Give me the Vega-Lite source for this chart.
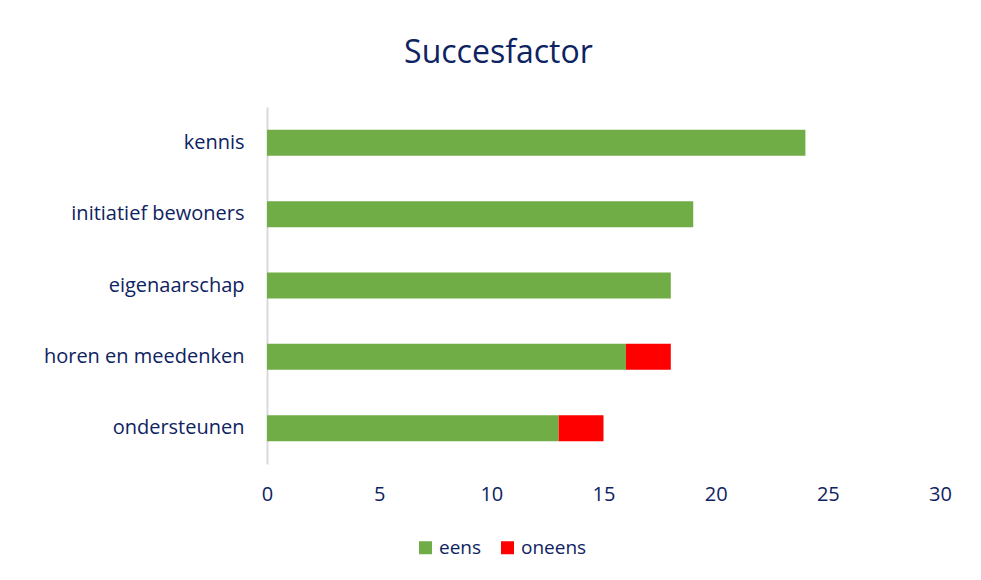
{
  "$schema": "https://vega.github.io/schema/vega-lite/v6.json",
  "autosize": {"type": "none"},
  "width": 673,
  "height": 357,
  "padding": {"left": 267, "top": 107, "right": 41, "bottom": 116},
  "background": "white",
  "title": {
    "text": "Succesfactor",
    "font": "Open Sans",
    "fontSize": 32,
    "fontWeight": "normal",
    "color": "#0E2361",
    "anchor": "middle",
    "frame": "bounds",
    "offset": 37,
    "dx": 1
  },
  "data": {
    "values": [
      {"factor": "kennis", "reactie": "eens", "aantal": 24, "volg": 0},
      {"factor": "initiatief bewoners", "reactie": "eens", "aantal": 19, "volg": 0},
      {"factor": "eigenaarschap", "reactie": "eens", "aantal": 18, "volg": 0},
      {"factor": "horen en meedenken", "reactie": "eens", "aantal": 16, "volg": 0},
      {"factor": "horen en meedenken", "reactie": "oneens", "aantal": 2, "volg": 1},
      {"factor": "ondersteunen", "reactie": "eens", "aantal": 13, "volg": 0},
      {"factor": "ondersteunen", "reactie": "oneens", "aantal": 2, "volg": 1}
    ]
  },
  "mark": {"type": "bar"},
  "encoding": {
    "y": {
      "field": "factor",
      "type": "nominal",
      "sort": ["kennis", "initiatief bewoners", "eigenaarschap", "horen en meedenken", "ondersteunen"],
      "scale": {"paddingInner": 0.635, "paddingOuter": 0.32},
      "axis": {
        "title": null,
        "ticks": false,
        "domain": true,
        "domainColor": "#D9D9D9",
        "domainWidth": 2,
        "labelFont": "Open Sans",
        "labelFontSize": 20,
        "labelColor": "#0E2361",
        "labelPadding": 23,
        "labelLimit": 300
      }
    },
    "x": {
      "field": "aantal",
      "type": "quantitative",
      "stack": "zero",
      "scale": {"domain": [0, 30]},
      "axis": {
        "title": null,
        "values": [0, 5, 10, 15, 20, 25, 30],
        "grid": false,
        "ticks": false,
        "domain": false,
        "labelFlush": false,
        "labelFont": "Open Sans",
        "labelFontSize": 20,
        "labelColor": "#0E2361",
        "labelPadding": 20
      }
    },
    "order": {"field": "volg", "type": "quantitative"},
    "color": {
      "field": "reactie",
      "type": "nominal",
      "scale": {"domain": ["eens", "oneens"], "range": ["#70AD47", "#FF0000"]},
      "legend": {
        "title": null,
        "orient": "none",
        "direction": "horizontal",
        "legendX": 149,
        "legendY": 431,
        "symbolType": "square",
        "symbolSize": 169,
        "symbolStrokeWidth": 0,
        "labelFont": "Open Sans",
        "labelFontSize": 19,
        "labelColor": "#0E2361",
        "columnPadding": 16,
        "labelOffset": 4
      }
    }
  },
  "config": {"view": {"stroke": null}}
}
